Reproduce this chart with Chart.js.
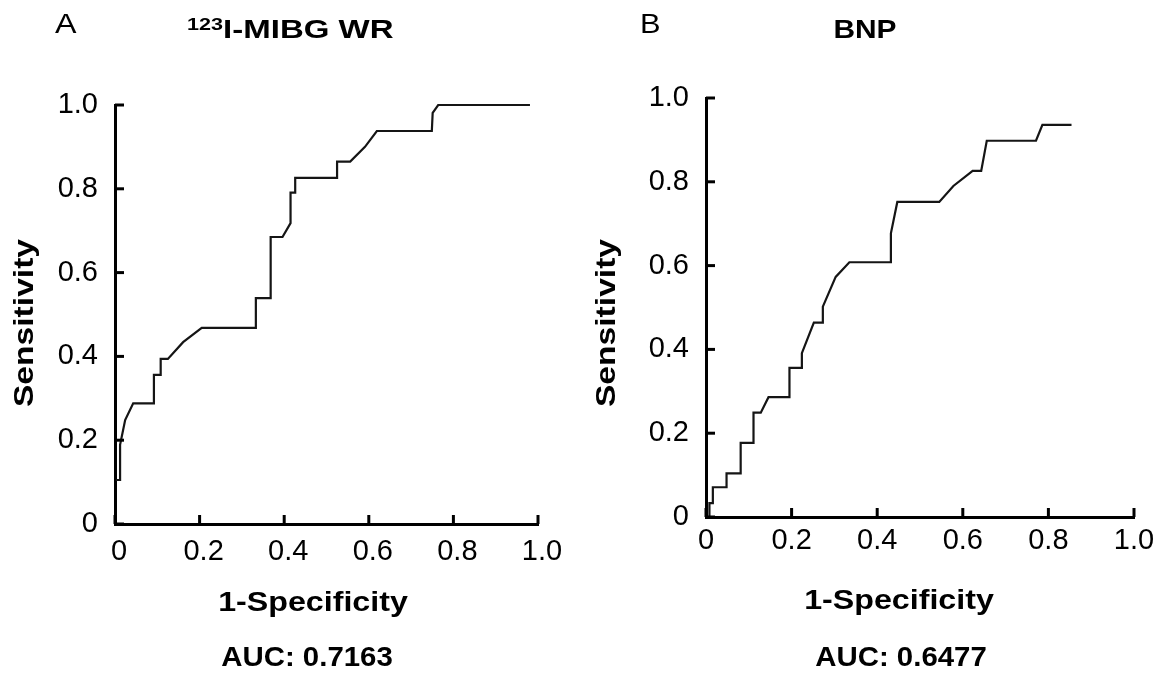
<!DOCTYPE html>
<html>
<head>
<meta charset="utf-8">
<script src="https://cdn.jsdelivr.net/npm/chart.js@4/dist/chart.umd.min.js"></script>
<style>
  html, body { margin: 0; padding: 0; background: #fff; }
  body { width: 1166px; height: 675px; position: relative; overflow: hidden; font-family: 'Liberation Sans', Arial, sans-serif; color: #000; }
  canvas { position: absolute; top: 0; }
  .t { position: absolute; white-space: nowrap; line-height: 1; }
  .c { text-align: center; transform-origin: center center; }
  .b { font-weight: bold; }
</style>
</head>
<body>
<canvas id="cA" width="583" height="675" style="left:0px"></canvas>
<canvas id="cB" width="583" height="675" style="left:583px"></canvas>

<div class="t" style="left:55px;top:10px;font-size:28px;transform:scaleX(1.15);transform-origin:left center">A</div>
<div class="t b" style="left:187px;top:16px;font-size:26px;transform:scaleX(1.27);transform-origin:left center"><span style="font-size:17px;position:relative;top:-8px">123</span>I-MIBG WR</div>
<div class="t" style="left:640px;top:10px;font-size:28px;transform:scaleX(1.1);transform-origin:left center">B</div>
<div class="t b c" style="left:815px;width:100px;top:16px;font-size:26px;transform:scaleX(1.15)">BNP</div>

<div class="t b c" style="left:-76px;width:200px;top:309px;font-size:28px;transform:rotate(-90deg) scaleX(1.2)">Sensitivity</div>
<div class="t b c" style="left:506px;width:200px;top:309px;font-size:28px;transform:rotate(-90deg) scaleX(1.2)">Sensitivity</div>

<div class="t b c" style="left:213px;width:200px;top:588px;font-size:28px;transform:scaleX(1.15)">1-Specificity</div>
<div class="t b c" style="left:799px;width:200px;top:586px;font-size:28px;transform:scaleX(1.15)">1-Specificity</div>

<div class="t b c" style="left:207px;width:200px;top:643px;font-size:28px;transform:scaleX(1.05)">AUC: 0.7163</div>
<div class="t b c" style="left:801px;width:200px;top:643px;font-size:28px;transform:scaleX(1.05)">AUC: 0.6477</div>

<script>
// ---- data ----
const tickValues = [0, 0.2, 0.4, 0.6, 0.8, 1.0];
const tickLabels = ['0', '0.2', '0.4', '0.6', '0.8', '1.0'];

// Panel A: 123I-MIBG WR ROC curve (1-specificity, sensitivity)
const fprA = [0.002, 0.012, 0.012, 0.024, 0.043, 0.092, 0.092, 0.108, 0.108, 0.125, 0.161, 0.205, 0.333, 0.333, 0.368, 0.368, 0.396, 0.415, 0.415, 0.426, 0.426, 0.525, 0.525, 0.556, 0.591, 0.619, 0.749, 0.751, 0.764, 0.981];
const tprA = [0.105, 0.105, 0.189, 0.248, 0.288, 0.288, 0.356, 0.356, 0.394, 0.394, 0.434, 0.468, 0.468, 0.539, 0.539, 0.685, 0.685, 0.718, 0.791, 0.791, 0.826, 0.826, 0.865, 0.865, 0.900, 0.938, 0.938, 0.981, 1.0, 1.0];

// Panel B: BNP ROC curve
const fprB = [0.008, 0.008, 0.016, 0.016, 0.048, 0.048, 0.081, 0.081, 0.111, 0.111, 0.128, 0.146, 0.195, 0.195, 0.224, 0.224, 0.252, 0.273, 0.273, 0.303, 0.335, 0.432, 0.432, 0.447, 0.545, 0.578, 0.623, 0.643, 0.656, 0.771, 0.786, 0.854];
const tprB = [0.0, 0.033, 0.033, 0.071, 0.071, 0.104, 0.104, 0.177, 0.177, 0.249, 0.249, 0.286, 0.286, 0.356, 0.356, 0.391, 0.464, 0.464, 0.502, 0.573, 0.608, 0.608, 0.677, 0.752, 0.752, 0.790, 0.826, 0.826, 0.898, 0.898, 0.936, 0.936];

const FONT = "'Liberation Sans', Arial, sans-serif";

const inwardTicks = {
  id: 'inwardTicks',
  afterDraw(chart) {
    const ctx = chart.ctx;
    const xs = chart.scales.x, ys = chart.scales.y;
    const a = chart.chartArea;
    ctx.save();
    ctx.strokeStyle = '#000';
    ctx.lineWidth = 3;
    ctx.lineCap = 'butt';
    tickValues.forEach(v => {
      const py = ys.getPixelForValue(v);
      ctx.beginPath(); ctx.moveTo(a.left, py); ctx.lineTo(a.left + 9, py); ctx.stroke();
      const px = xs.getPixelForValue(v);
      ctx.beginPath(); ctx.moveTo(px, a.bottom); ctx.lineTo(px, a.bottom - 9); ctx.stroke();
    });
    ctx.restore();
  }
};

function makeChart(id, fpr, tpr, geo) {
  const pts = fpr.map((x, i) => ({ x: x, y: tpr[i] }));
  return new Chart(document.getElementById(id), {
    type: 'line',
    data: { datasets: [{ data: pts, borderColor: '#151515', borderWidth: 2.2, pointRadius: 0, tension: 0, fill: false, clip: 6 }] },
    options: {
      responsive: false,
      animation: false,
      devicePixelRatio: 1,
      layout: { padding: { left: 0, top: geo.top, right: geo.right, bottom: 0 } },
      plugins: { legend: { display: false }, title: { display: false }, tooltip: { enabled: false } },
      scales: {
        x: {
          type: 'linear', min: 0, max: 1,
          afterBuildTicks: s => { s.ticks = tickValues.map(v => ({ value: v })); },
          afterFit: s => { s.height = geo.xh; },
          grid: { display: false, drawTicks: false, tickLength: 0 },
          border: { display: true, color: '#000', width: 3 },
          ticks: { callback: (v, i) => tickLabels[i], color: '#000', font: { family: FONT, size: 29 }, padding: geo.xpad, labelOffset: geo.xoff, maxRotation: 0, autoSkip: false }
        },
        y: {
          type: 'linear', min: 0, max: 1,
          afterBuildTicks: s => { s.ticks = tickValues.map(v => ({ value: v })); },
          afterFit: s => { s.width = geo.yw; },
          grid: { display: false, drawTicks: false, tickLength: 0 },
          border: { display: true, color: '#000', width: 3 },
          ticks: { callback: (v, i) => tickLabels[i], color: '#000', font: { family: FONT, size: 29 }, padding: geo.ypad, autoSkip: false }
        }
      }
    },
    plugins: [inwardTicks]
  });
}

makeChart('cA', fprA, tprA, { top: 105, right: 583 - 538, xh: 675 - 524, yw: 115, xpad: 11, ypad: 17, xoff: 4 });
makeChart('cB', fprB, tprB, { top: 98, right: 583 - 551, xh: 675 - 517, yw: 123, xpad: 7, ypad: 17, xoff: 0 });
</script>
</body>
</html>
